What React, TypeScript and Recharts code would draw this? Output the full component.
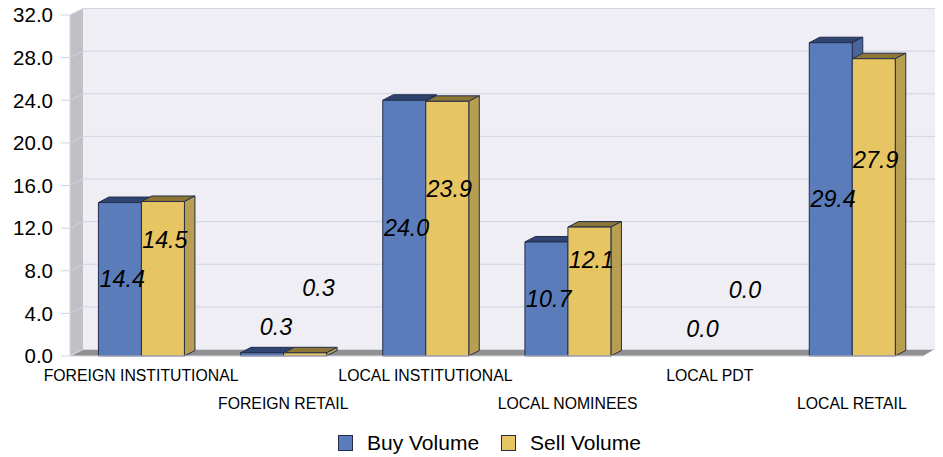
import React from "react";
import { ComposedChart, Bar, Line, XAxis, YAxis, CartesianGrid, Legend, LabelList } from "recharts";

const categories = ["FOREIGN INSTITUTIONAL", "FOREIGN RETAIL", "LOCAL INSTITUTIONAL", "LOCAL NOMINEES", "LOCAL PDT", "LOCAL RETAIL"];
const buyVolume = [14.4, 0.3, 24.0, 10.7, 0.0, 29.4];
const sellVolume = [14.5, 0.3, 23.9, 12.1, 0.0, 27.9];
const yTicks = [0, 4, 8, 12, 16, 20, 24, 28, 32];

const data = categories.map((name, i) => ({ name, buy: buyVolume[i], sell: sellVolume[i] }));

const FONT = "'Liberation Sans', Arial, sans-serif";
const WALL_DX = 13;
const WALL_DY = 6.5;
const BAR_DX = 10.5;
const BAR_DY = 5.5;
const GRID = "#d4d3e2";
const EDGE = "#232d4b";

const gridLine = (props: any) => {
  const { x1, y1, x2, y2, index, x, y, width, height } = props;
  const left = x ?? x1;
  const right = left + (width ?? x2 - x1);
  const top = y ?? 15;
  const bottom = top + (height ?? 340);
  return (
    <g key={`grid-${index}`}>
      {index === 0 && (
        <g>
          <rect x={left + WALL_DX} y={top - WALL_DY} width={right - left} height={bottom - top} fill="#eeeef4" />
          <polygon
            points={`${left},${top} ${left + WALL_DX},${top - WALL_DY} ${left + WALL_DX},${bottom - WALL_DY} ${left},${bottom}`}
            fill="#c1c1c5"
          />
          <polygon
            points={`${left},${bottom} ${left + WALL_DX},${bottom - WALL_DY} ${right + WALL_DX - 2},${bottom - WALL_DY} ${right},${bottom}`}
            fill="#919191"
          />
        </g>
      )}
      <line x1={x1} y1={y1} x2={x1 + WALL_DX} y2={y1 - WALL_DY} stroke={GRID} strokeWidth={1} />
      <line x1={x1 + WALL_DX} y1={y1 - WALL_DY} x2={x2 + 20} y2={y1 - WALL_DY} stroke={GRID} strokeWidth={1} />
    </g>
  );
};

const box = (front: string, topFace: string, sideFace: string) => (props: any) => {
  const { x, y, width, height } = props;
  if (!height || height <= 0) return <g />;
  return (
    <g stroke={EDGE} strokeWidth={1} strokeLinejoin="round">
      <polygon
        points={`${x},${y} ${x + BAR_DX},${y - BAR_DY} ${x + width + BAR_DX},${y - BAR_DY} ${x + width},${y}`}
        fill={topFace}
      />
      <polygon
        points={`${x + width},${y} ${x + width + BAR_DX},${y - BAR_DY} ${x + width + BAR_DX},${y + height - BAR_DY} ${x + width},${y + height}`}
        fill={sideFace}
      />
      <rect x={x} y={y} width={width} height={height} fill={front} />
    </g>
  );
};

const StaggeredTick = (props: any) => {
  const { x, y, payload, index } = props;
  const row = (payload?.index ?? index) % 2;
  return (
    <text x={x} y={y + 17 + row * 28} textAnchor="middle" fontFamily={FONT} fontSize={15.8} fill="#000">
      {payload.value}
    </text>
  );
};

const valueLabels = (props: any) => {
  const { x, y, index } = props;
  const buy = buyVolume[index];
  const sell = sellVolume[index];
  const small = buy < 1;
  const base = small ? y - 27 : y;
  const shift = small ? 14 : 2.5;
  const common = {
    fontFamily: FONT,
    fontSize: 23.3,
    fontStyle: "italic" as const,
    fill: "#000",
    textAnchor: "middle" as const,
    dominantBaseline: "central" as const,
  };
  return (
    <g key={`labels-${index}`}>
      <text x={x - 21.3 + shift} y={base} {...common}>{buy.toFixed(1)}</text>
      <text x={x + 21.3 + shift} y={base - 39} {...common}>{sell.toFixed(1)}</text>
    </g>
  );
};

const LegendBox = ({ payload }: any) => (
  <div style={{ display: "flex", justifyContent: "center", fontFamily: FONT, fontSize: 21, color: "#000", lineHeight: "24px", transform: "translate(24px, 6px)" }}>
    {(payload || []).filter((p: any) => p.type !== "none").map((p: any, i: number) => (
      <div key={p.value} style={{ display: "flex", alignItems: "center", marginLeft: i ? 22 : 0 }}>
        <span style={{ display: "inline-block", width: 15, height: 16, background: p.color, border: `1px solid ${EDGE}`, boxSizing: "border-box", marginRight: 14 }} />
        <span>{p.value}</span>
      </div>
    ))}
  </div>
);

export default function App() {
  return (
    <div style={{ margin: "-8px 0 0 -8px", width: 943, height: 457, background: "#fff" }}>
      <ComposedChart
        width={943}
        height={457}
        data={data}
        margin={{ top: 15, right: 20, bottom: 2, left: 8 }}
        barCategoryGap="20%"
        barGap={0}
      >
        <CartesianGrid vertical={false} horizontal={gridLine as any} />
        <XAxis
          dataKey="name"
          interval={0}
          height={69}
          tick={StaggeredTick as any}
          tickLine={false}
          axisLine={{ stroke: GRID }}
        />
        <YAxis
          width={62}
          domain={[0, 32]}
          ticks={yTicks}
          interval={0}
          tickSize={9}
          tickMargin={8}
          tickFormatter={(v: number) => v.toFixed(1)}
          tick={{ fontFamily: FONT, fontSize: 20.5, fill: "#000" }}
          tickLine={{ stroke: GRID }}
          axisLine={{ stroke: GRID }}
        />
        <Legend verticalAlign="bottom" height={30} content={LegendBox as any} />
        <Bar dataKey="buy" name="Buy Volume" fill="#5b7cba" isAnimationActive={false} shape={box("#5b7cba", "#2f4470", "#4a659b") as any} />
        <Bar dataKey="sell" name="Sell Volume" fill="#e6c562" isAnimationActive={false} shape={box("#e6c562", "#8b7636", "#b89e50") as any} />
        <Line
          dataKey={(d: any) => d.buy / 2}
          legendType="none"
          stroke="none"
          dot={false}
          activeDot={false}
          isAnimationActive={false}
        >
          <LabelList content={valueLabels as any} />
        </Line>
      </ComposedChart>
    </div>
  );
}
